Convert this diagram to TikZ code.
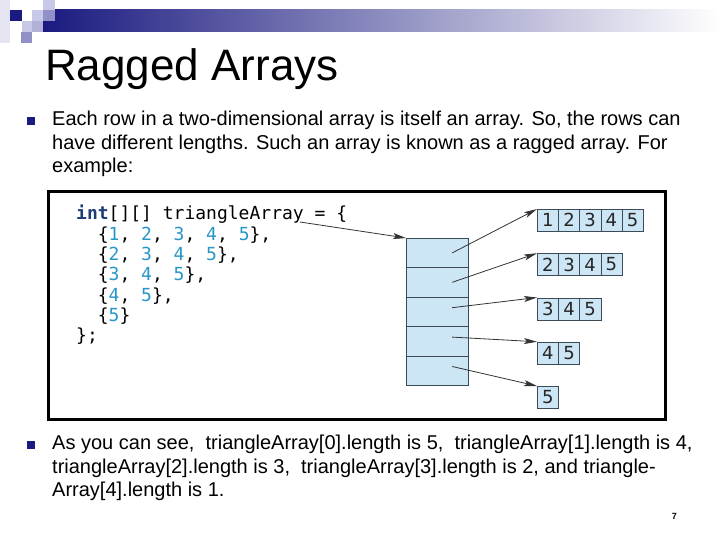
\documentclass[tikz,border=0pt]{standalone}
\usepackage{fontspec}
\setmainfont{Liberation Sans}
\newfontfamily\codefont{DejaVu Sans Mono}
\newfontfamily\cellfont{DejaVu Sans}
\usetikzlibrary{arrows.meta,positioning,calc}
\definecolor{navy}{RGB}{26,26,128}
\definecolor{midblue}{RGB}{145,145,200}
\definecolor{paleblue}{RGB}{200,200,232}
\definecolor{faintblue}{RGB}{228,228,242}
\definecolor{cellfill}{RGB}{204,230,246}
\definecolor{celldraw}{RGB}{60,75,85}
\definecolor{codeblue}{RGB}{40,150,200}
\definecolor{keyblue}{RGB}{30,60,120}
\newcommand{\nm}[1]{\textcolor{codeblue}{#1}}

\begin{document}
\begin{tikzpicture}[x=1pt,y=-1pt,
    body/.style={anchor=north west, inner sep=0pt, align=left, font=\fontsize{20}{23.5}\selectfont},
    bullet/.style={fill=navy, minimum size=8pt, inner sep=0pt},
    slot/.style={draw=celldraw, fill=cellfill, minimum width=62pt, minimum height=29.4pt, inner sep=0pt, anchor=north west},
    cell/.style={draw=celldraw, fill=cellfill, minimum width=21.2pt, minimum height=22pt, inner sep=0pt, anchor=north west, font=\cellfont\fontsize{18}{18}\selectfont, text=black!85},
    arrow/.style={-{Stealth[length=13pt,width=6pt,inset=3pt]}, draw=black!80, line width=0.8pt}
]
    \useasboundingbox (0,0) rectangle (720,540);

    % header band and squares
    \shade[left color=navy, right color=white] (43,10) rectangle (720,32);
    \fill[faintblue] (0,0) rectangle (10,43);
    \fill[navy] (10,10) rectangle (22,21);
    \fill[paleblue] (32,10) rectangle (43,21);
    \fill[paleblue] (43,0) rectangle (55,10);
    \fill[midblue] (43,10) rectangle (55,21);
    \fill[paleblue] (22,21) rectangle (32,32);
    \fill[midblue!70] (32,21) rectangle (43,32);
    \fill[midblue] (21,32) rectangle (32,43);

    \node[anchor=base west, inner sep=0pt, font=\fontsize{44}{44}\selectfont] (title) at (45,81) {Ragged Arrays};

    % first bullet
    \node[bullet] (b1) at (31,121) {};
    \node[body] (t1) at (52,111) {Each row in a two-dimensional array is itself an array. So, the rows can\\
        have different lengths. Such an array is known as a ragged array. For\\
        example:};

    % figure
    \draw[line width=3pt] (48,192) rectangle (665,419);

    \node[anchor=north west, inner sep=0pt, align=left, font=\codefont\fontsize{18}{20.3}\selectfont] (code) at (76,205)
        {\textcolor{keyblue}{\bfseries int}[][] triangleArray = \{\\
        \phantom{xx}\{\nm{1}, \nm{2}, \nm{3}, \nm{4}, \nm{5}\},\\
        \phantom{xx}\{\nm{2}, \nm{3}, \nm{4}, \nm{5}\},\\
        \phantom{xx}\{\nm{3}, \nm{4}, \nm{5}\},\\
        \phantom{xx}\{\nm{4}, \nm{5}\},\\
        \phantom{xx}\{\nm{5}\}\\
        \};};

    \foreach \i in {1,...,5}
        \node[slot] (col\i) at (406,{238+(\i-1)*29.4}) {};

    \foreach \r/\len in {1/5,2/4,3/3,4/2,5/1} {
        \foreach \c in {1,...,\len} {
            \pgfmathtruncatemacro{\v}{\r+\c-1}
            \node[cell] (r\r-\c) at ({537+(\c-1)*21.2},{209+(\r-1)*44.25}) {\v};
        }
    }

    \coordinate (src) at (300,222);
    \draw[arrow] (src) -- (col1.north west);
    \foreach \i/\dy in {1/0,2/0,3/4,4/4,5/4}
        \draw[arrow] ([xshift=15pt,yshift=\dy pt]col\i.center) -- (r\i-1.north west);

    % second bullet
    \node[bullet] (b2) at (31,445) {};
    \node[body] (t2) at (52,435) {As you can see,\ \ triangleArray[0].length is 5,\ \ triangleArray[1].length is 4,\\
        triangleArray[2].length is 3,\ \ triangleArray[3].length is 2, and triangle-\\
        Array[4].length is 1.};

    \node[anchor=base east, inner sep=0pt, font=\bfseries\fontsize{9}{9}\selectfont] (page) at (677,519) {7};
\end{tikzpicture}
\end{document}
